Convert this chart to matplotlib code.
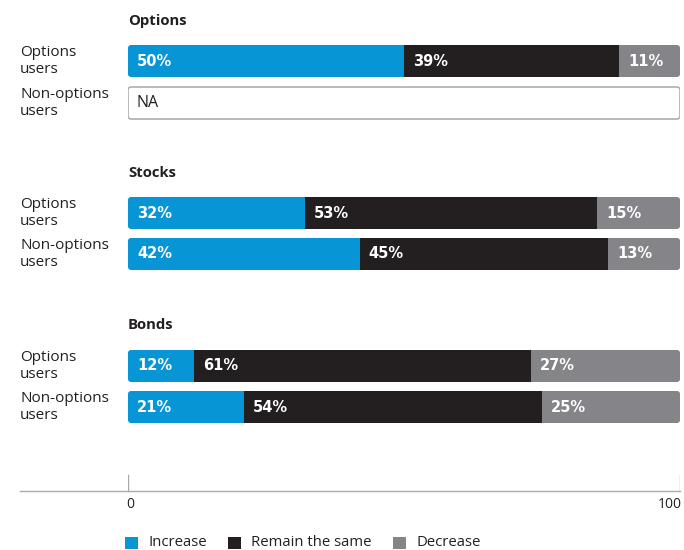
import numpy as np
import matplotlib
matplotlib.use("Agg")
import matplotlib.pyplot as plt
from matplotlib.patches import Rectangle, FancyBboxPatch
from matplotlib.lines import Line2D

# data
groups = ["Options", "Stocks", "Bonds"]
row_labels = ["Options\nusers", "Non-options\nusers"]
increase = [50, np.nan, 32, 42, 12, 21]
same = [39, np.nan, 53, 45, 61, 54]
decrease = [11, np.nan, 15, 13, 27, 25]
series_names = ["Increase", "Remain the same", "Decrease"]
colors = ["#0795d6", "#231f20", "#858589"]
x_ticks = [0, 100]

plt.rcParams["font.family"] = ["Open Sans", "DejaVu Sans"]

W, H = 684, 550
fig = plt.figure(figsize=(W / 100, H / 100), dpi=100)
x0, x1 = 128, 680
ax = fig.add_axes([x0 / W, 0, (x1 - x0) / W, 1])
ax.set_xlim(0, 100)
ax.set_ylim(H, 0)
ax.axis("off")

row_y = [61, 103, 213, 254, 366, 407]
title_y = [21, 173, 325]
bar_h = 32
px = 100 / (x1 - x0)  # data units per pixel along x


def rounded_box(y, **kw):
    # rounded outline of a whole bar, corners ~3px
    return FancyBboxPatch((0, y - bar_h / 2), 100, bar_h,
                          boxstyle=f"round,pad=0,rounding_size={3 * px}",
                          mutation_aspect=1 / px, transform=ax.transData, **kw)


for g, ty in zip(groups, title_y):
    ax.text(0, ty, g, fontsize=10.7, fontweight="bold", color="#231f20",
            va="center", ha="left")

for i, y in enumerate(row_y):
    fig.text(20 / W, 1 - y / H, row_labels[i % 2], fontsize=11, color="#231f20",
             va="center", ha="left", linespacing=1.1)
    vals = [increase[i], same[i], decrease[i]]
    if np.isnan(vals[0]):
        ax.add_patch(rounded_box(y, facecolor="white", edgecolor="#a8a8a8",
                                 linewidth=1.1))
        ax.text(9 * px, y, "NA", fontsize=11.5, color="#231f20",
                va="center", ha="left")
        continue
    clip = rounded_box(y, facecolor="none", edgecolor="none")
    left = 0
    for v, c in zip(vals, colors):
        bars = ax.barh(y, v, left=left, height=bar_h, color=c, linewidth=0)
        for b in bars:
            b.set_clip_path(clip)
        ax.text(left + 9 * px, y, f"{v:.0f}%", fontsize=10.5, fontweight="bold",
                family="DejaVu Sans", color="white", va="center", ha="left")
        left += v

# axis line and ticks
axis_y = 491
ax.add_line(Line2D([(20 - x0) * px, 100], [axis_y, axis_y], color="#aaaaaa",
                   linewidth=1, clip_on=False))
for t in x_ticks:
    ax.plot([t, t], [axis_y - 16, axis_y], color="#aaaaaa", linewidth=1)
ax.text(x_ticks[0] + 2 * px, 505, str(x_ticks[0]), fontsize=10, color="#231f20",
        ha="center", va="center")
ax.text(x_ticks[1] - 10 * px, 505, str(x_ticks[1]), fontsize=10, color="#231f20",
        ha="center", va="center")

# legend
leg_x = [125, 228, 393]
for lx, name, c in zip(leg_x, series_names, colors):
    fig.add_artist(Rectangle((lx / W, 1 - 549 / H), 13 / W, 12 / H,
                             facecolor=c, edgecolor="none",
                             transform=fig.transFigure))
    fig.text((lx + 23) / W, 1 - 543 / H, name, fontsize=10.7, color="#231f20",
             ha="left", va="center")

fig.savefig("out.png", dpi=100)
